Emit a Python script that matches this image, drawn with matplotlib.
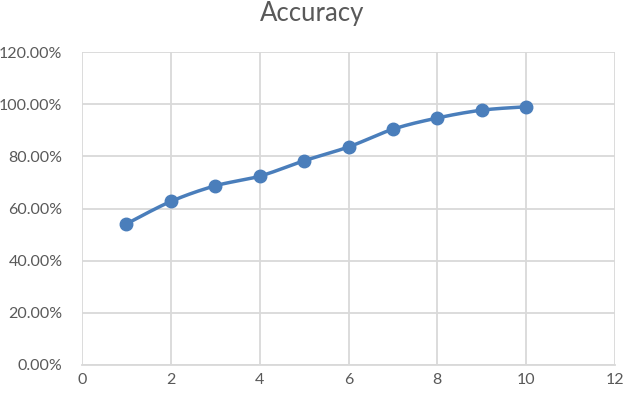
import numpy as np
import matplotlib
matplotlib.use("Agg")
import matplotlib.pyplot as plt
from matplotlib.ticker import FuncFormatter

x = [1, 2, 3, 4, 5, 6, 7, 8, 9, 10]
accuracy = [0.541, 0.627, 0.687, 0.724, 0.783, 0.836, 0.904, 0.947, 0.977, 0.990]
title = "Accuracy"

plt.rcParams['font.family'] = ['Lato', 'DejaVu Sans']

def smooth(xs, ys, n=30):
    xs = np.asarray(xs, float); ys = np.asarray(ys, float)
    px = np.concatenate([[xs[0]], xs, [xs[-1]]])
    py = np.concatenate([[ys[0]], ys, [ys[-1]]])
    ox, oy = [], []
    t = np.linspace(0, 1, n)
    for i in range(1, len(px) - 2):
        p0 = np.array([px[i], py[i]]); p3 = np.array([px[i+1], py[i+1]])
        c1 = p0 + (np.array([px[i+1], py[i+1]]) - np.array([px[i-1], py[i-1]])) / 6
        c2 = p3 - (np.array([px[i+2], py[i+2]]) - np.array([px[i], py[i]])) / 6
        b = ((1-t)**3)[:, None]*p0 + (3*(1-t)**2*t)[:, None]*c1 + (3*(1-t)*t**2)[:, None]*c2 + (t**3)[:, None]*p3
        ox.extend(b[:, 0]); oy.extend(b[:, 1])
    return ox, oy

fig = plt.figure(figsize=(6.24, 3.94), dpi=100)
ax = fig.add_axes([82/624, 1-365/394, 533/624, 313/394])
col = '#4a7ebb'
sx, sy = smooth(x, accuracy)
ax.plot(sx, sy, color=col, lw=2.5, solid_capstyle='round', zorder=3)
ax.plot(x, accuracy, 'o', color=col, ms=9, zorder=4)

ax.set_xlim(0, 12)
ax.set_ylim(0, 1.2)
ax.set_xticks(range(0, 13, 2))
ax.set_yticks(np.arange(0, 1.21, 0.2))
ax.yaxis.set_major_formatter(FuncFormatter(lambda v, p: f"{v*100:.2f}%"))
ax.grid(True, color='#d9d9d9', lw=1.3)
for s in ax.spines.values():
    s.set_visible(False)
ax.spines['bottom'].set_visible(True)
ax.spines['bottom'].set_color('#d9d9d9')
ax.spines['bottom'].set_linewidth(1.3)
ax.tick_params(length=0, labelsize=11.5, colors='#595959', pad=6)
ax.tick_params(axis='y', pad=14)
ax.set_axisbelow(True)
fig.text(0.5, 1-13/394, title, ha='center', va='center', fontsize=18.5, color='#595959')
fig.savefig("out.png", dpi=100)
